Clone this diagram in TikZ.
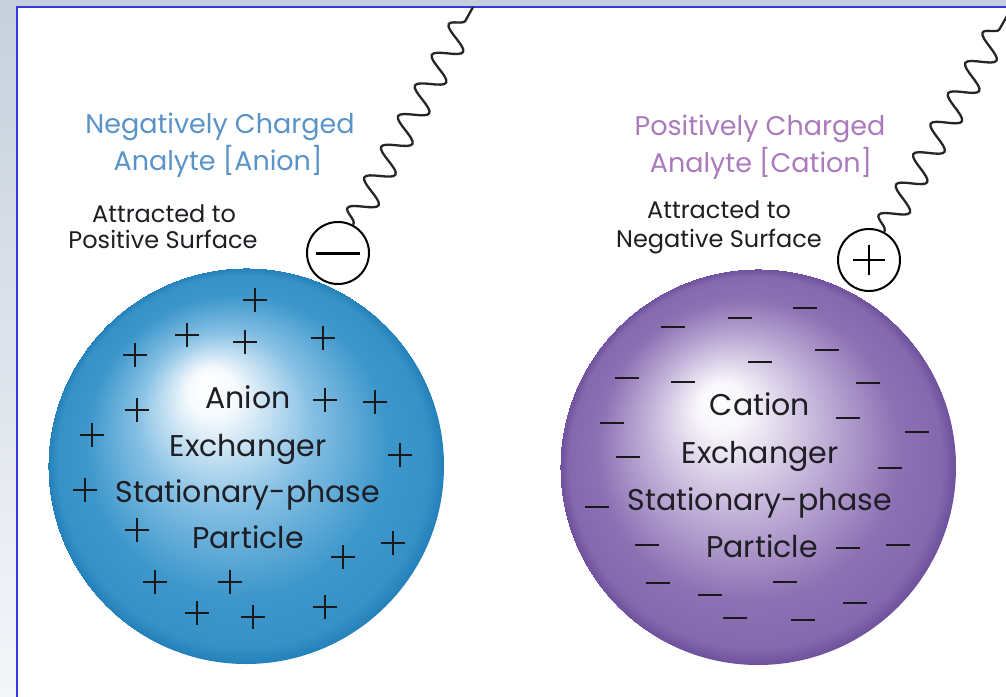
\documentclass[tikz,border=0pt]{standalone}
\usepackage{fontspec}
\setmainfont{Poppins}
\usetikzlibrary{decorations.pathmorphing}
\definecolor{bgtop}{HTML}{C6D0DC}
\definecolor{bgbot}{HTML}{F5F6FA}
\definecolor{frameblue}{HTML}{3838E0}
\definecolor{titleblue}{HTML}{5A93C8}
\definecolor{titlepurple}{HTML}{AA7ABC}
\definecolor{txt}{HTML}{1E1E24}
\definecolor{bmid}{HTML}{86C0E4}
\definecolor{bbody}{HTML}{3D97CB}
\definecolor{brim}{HTML}{2380B9}
\definecolor{pmid}{HTML}{C1B1D8}
\definecolor{pbody}{HTML}{8D71B4}
\definecolor{prim}{HTML}{6E509C}
\pgfdeclareradialshading{blueball}{\pgfpoint{-4.9bp}{10.6bp}}{color(0bp)=(white); color(3bp)=(white!93!bmid); color(11bp)=(bmid); color(19bp)=(bbody); color(23.5bp)=(bbody!75!brim); color(25bp)=(brim)}
\pgfdeclareradialshading{purpleball}{\pgfpoint{-5.2bp}{8.7bp}}{color(0bp)=(white!96!pmid); color(3bp)=(white!90!pmid); color(11bp)=(pmid); color(19bp)=(pbody); color(23.5bp)=(pbody!75!prim); color(25bp)=(prim)}
\tikzset{
  titleA/.style={anchor=base, font=\fontsize{27}{27}\selectfont, text=titleblue, inner sep=0pt},
  titleB/.style={anchor=base, font=\fontsize{27}{27}\selectfont, text=titlepurple, inner sep=0pt},
  sub/.style={anchor=base, font=\fontsize{24}{24}\selectfont, text=txt, inner sep=0pt},
  core/.style={anchor=base, font=\fontsize{30}{30}\selectfont, text=txt, inner sep=0pt},
  sphere/.style={circle, inner sep=0pt, minimum size=396pt},
  chargering/.style={circle, draw=black, line width=2pt, fill=white, inner sep=0pt, minimum size=62pt},
  wave/.style={draw=black!85, line width=2.3pt, decorate, decoration={snake, segment length=35pt, amplitude=13pt, pre length=1pt, post length=2pt}},
  sign/.style={draw=black!90, line width=2.3pt},
  plussign/.pic={\draw[sign] (-12,0) -- (12,0) (0,-12) -- (0,12);},
  minussign/.pic={\draw[sign] (-12,0) -- (12,0);}
}
\begin{document}
\begin{tikzpicture}[x=1pt, y=-1pt]
\useasboundingbox (0,0) rectangle (1006,696);
\fill[top color=bgtop, bottom color=bgbot] (0,0) rectangle (1006,696);
\fill[white] (17,7) rectangle (1007,697);
\draw[frameblue, line width=2pt] (17,697) -- (17,7) -- (1007,7);

% spheres
\node[sphere, shading=blueball] (bs) at (246,466) {};
\node[sphere, shading=purpleball] (ps) at (758,467) {};

% charges on spheres
\foreach \p in {(255,300),(187,335),(245,342),(323,338),(135,355),(137,410),(325,400),(375,402),(92,435),(400,455),(85,490),(137,530),(393,543),(343,557),(155,582),(230,582),(197,613),(253,617),(325,607)}
  \pic at \p {plussign};
\foreach \p in {(805,308),(740,318),(673,327),(827,350),(760,362),(627,378),(683,382),(868,383),(612,423),(848,418),(917,432),(628,457),(890,468),(597,507),(647,545),(848,548),(898,545),(658,583),(785,582),(710,595),(855,603),(735,618),(803,620)}
  \pic at \p {minussign};

% sphere texts
\node[core] (a1) at (248,408) {Anion};
\node[core] (a2) at (248,456) {Exchanger};
\node[core] (a3) at (248,502) {Stationary-phase};
\node[core] (a4) at (248,548) {Particle};
\node[core] (c1) at (760,415) {Cation};
\node[core] (c2) at (760,463) {Exchanger};
\node[core] (c3) at (760,510) {Stationary-phase};
\node[core] (c4) at (762,557) {Particle};

% titles
\node[titleA] (ta1) at (220,133) {Negatively Charged};
\node[titleA] (ta2) at (218,170) {Analyte [Anion]};
\node[sub] (sa1) at (164,222) {Attracted to};
\node[sub] (sa2) at (163,248) {Positive Surface};
\node[titleB] (tb1) at (760,135) {Positively Charged};
\node[titleB] (tb2) at (761,172) {Analyte [Cation]};
\node[sub] (sb1) at (719,218) {Attracted to};
\node[sub] (sb2) at (719,247) {Negative Surface};

% analyte ions
\node[chargering] (an) at (338,253) {};
\draw[black, line width=3pt] ([xshift=-22pt]an.center) -- ([xshift=22pt]an.center);
\node[chargering] (ca) at (869,260) {};
\draw[black, line width=2.4pt] ([xshift=-16pt]ca.center) -- ([xshift=16pt]ca.center)
  ([yshift=-15pt]ca.center) -- ([yshift=15pt]ca.center);

% tails
\coordinate (ea) at (473,7);
\coordinate (eb) at (1007,16);
\draw[wave] (an.62) -- (ea);
\draw[wave] (ca.62) -- (eb);
\end{tikzpicture}
\end{document}
